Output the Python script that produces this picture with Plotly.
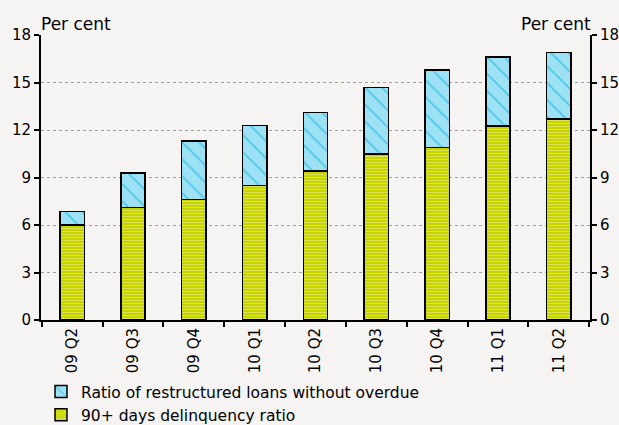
import plotly.graph_objects as go

categories = ["09 Q2", "09 Q3", "09 Q4", "10 Q1", "10 Q2", "10 Q3", "10 Q4", "11 Q1", "11 Q2"]
delinquency = [6.0, 7.1, 7.6, 8.5, 9.4, 10.5, 10.9, 12.25, 12.7]
restructured = [0.85, 2.2, 3.7, 3.8, 3.7, 4.2, 4.9, 4.35, 4.2]
y_ticks = [0, 3, 6, 9, 12, 15, 18]

FONT = "DejaVu Sans"
BG = "#f5f4f2"

fig = go.Figure()
fig.add_trace(go.Bar(
    x=categories, y=delinquency, name="90+ days delinquency ratio",
    marker=dict(color="#c8d400", line=dict(color="black", width=1.5),
                pattern=dict(shape="-", fgcolor="#eef2a8", bgcolor="#c8d400", size=3, solidity=0.35)),
))
fig.add_trace(go.Bar(
    x=categories, y=restructured, name="Ratio of restructured loans without overdue",
    marker=dict(color="#9de2f4", line=dict(color="black", width=1.5),
                pattern=dict(shape="\\", fgcolor="#00a9dc", bgcolor="#9de2f4", size=12, solidity=0.14)),
))
# invisible helper so the right-hand axis is drawn
fig.add_trace(go.Scatter(x=categories, y=delinquency, yaxis="y2", mode="markers",
                         marker=dict(opacity=0), showlegend=False, hoverinfo="skip"))

axis_common = dict(range=[0, 18], tickvals=y_ticks, ticks="outside", ticklen=5, tickwidth=2,
                   tickcolor="black", showline=True, linecolor="black", linewidth=2,
                   tickfont=dict(family=FONT, size=15, color="black"), zeroline=False)

fig.update_layout(
    width=619, height=425,
    margin=dict(l=41, r=29, t=35, b=105, autoexpand=False),
    paper_bgcolor=BG, plot_bgcolor=BG,
    barmode="stack", bargap=0.6,
    font=dict(family=FONT, size=16, color="black"),
    xaxis=dict(tickangle=-90, ticks="outside", tickson="boundaries", ticklen=5, tickwidth=2,
               tickcolor="black", showline=True, linecolor="black", linewidth=2,
               tickfont=dict(family=FONT, size=15, color="black"), showgrid=False,
               automargin=False),
    yaxis=dict(**axis_common, showgrid=True, gridcolor="#a0a0a0", griddash="dot", gridwidth=1,
               automargin=False),
    yaxis2=dict(**axis_common, overlaying="y", side="right", showgrid=False, automargin=False),
    legend=dict(x=0, xanchor="left", y=-0.193, yanchor="top", orientation="v",
                traceorder="reversed", bgcolor="rgba(0,0,0,0)",
                font=dict(family=FONT, size=15.5, color="black"), itemwidth=30,
                tracegroupgap=0),
    showlegend=True,
    annotations=[
        dict(text="Per cent", xref="paper", yref="paper", x=0, y=1, xanchor="left", yanchor="bottom",
             showarrow=False, font=dict(family=FONT, size=17), xshift=-2, yshift=-1),
        dict(text="Per cent", xref="paper", yref="paper", x=1, y=1, xanchor="right", yanchor="bottom",
             showarrow=False, font=dict(family=FONT, size=17), xshift=3, yshift=-1),
    ],
)

fig.write_html("out.html", config={"displayModeBar": False},
               post_script="document.body.style.margin='0';document.body.style.background='#f5f4f2';")
